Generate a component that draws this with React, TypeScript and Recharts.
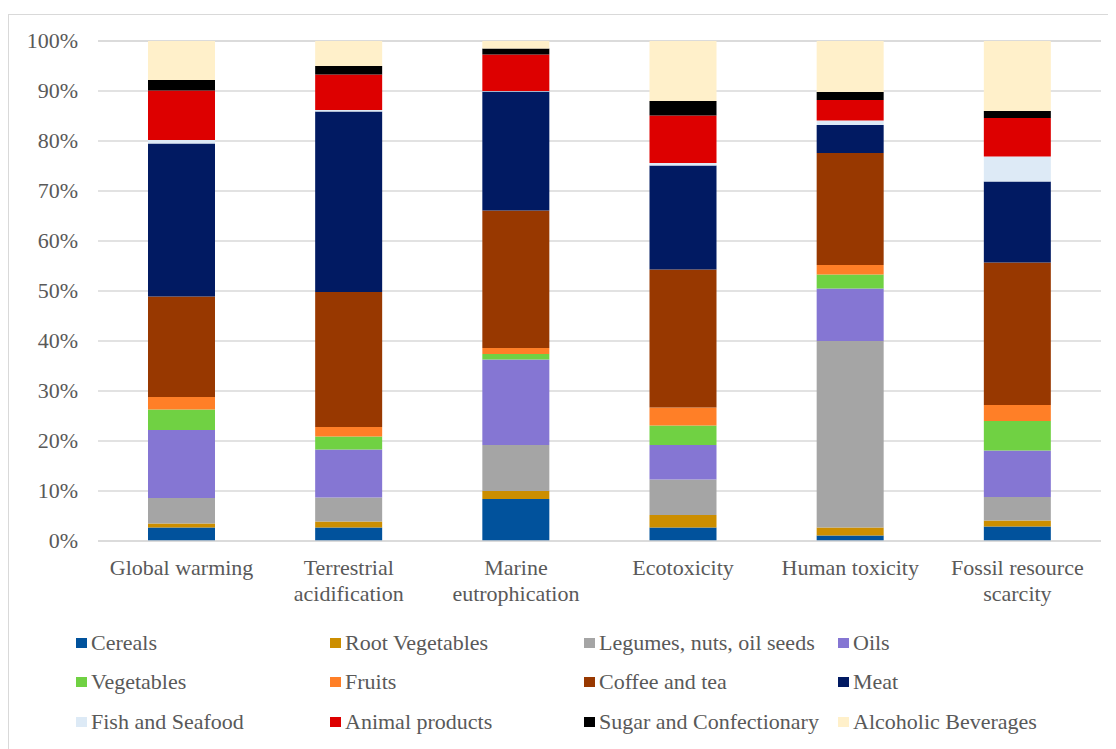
import {Bar, BarChart, CartesianGrid, XAxis, YAxis} from "recharts";

// Share of each food group in every impact category (%)
const categories = [
    "Global warming",
    "Terrestrial\nacidification",
    "Marine\neutrophication",
    "Ecotoxicity",
    "Human toxicity",
    "Fossil resource\nscarcity",
];

const cereals = [2.7, 2.7, 8.4, 2.7, 1.1, 2.9];
const rootVegetables = [0.8, 1.2, 1.6, 2.5, 1.6, 1.2];
const legumes = [5.1, 4.8, 9.2, 7.1, 37.3, 4.7];
const oils = [13.6, 9.6, 17.1, 6.9, 10.5, 9.3];
const vegetables = [4.1, 2.6, 1.1, 3.9, 2.8, 5.9];
const fruits = [2.5, 1.9, 1.2, 3.6, 1.9, 3.2];
const coffeeTea = [20.1, 27.0, 27.5, 27.6, 22.4, 28.5];
const meat = [30.6, 36.1, 23.8, 20.8, 5.6, 16.2];
const fishSeafood = [0.7, 0.3, 0.1, 0.5, 0.9, 5.0];
const animalProducts = [9.9, 7.1, 7.3, 9.5, 4.1, 7.7];
const sugar = [2.1, 1.7, 1.2, 2.9, 1.6, 1.4];
const alcohol = [7.8, 5.0, 1.5, 12.0, 10.2, 14.0];

const yTicks = [0, 10, 20, 30, 40, 50, 60, 70, 80, 90, 100];

const series = [
    {key: "Cereals", values: cereals, color: "#01529C"},
    {key: "Root Vegetables", values: rootVegetables, color: "#CC8E00"},
    {key: "Legumes, nuts, oil seeds", values: legumes, color: "#A5A5A5"},
    {key: "Oils", values: oils, color: "#8576D3"},
    {key: "Vegetables", values: vegetables, color: "#70D143"},
    {key: "Fruits", values: fruits, color: "#FF7F27"},
    {key: "Coffee and tea", values: coffeeTea, color: "#983800"},
    {key: "Meat", values: meat, color: "#011A62"},
    {key: "Fish and Seafood", values: fishSeafood, color: "#DDEAF6"},
    {key: "Animal products", values: animalProducts, color: "#DD0000"},
    {key: "Sugar and Confectionary", values: sugar, color: "#000000"},
    {key: "Alcoholic Beverages", values: alcohol, color: "#FFF0CA"},
];

const chartData = categories.map((name, i) => {
    const row: Record<string, string | number> = {name};
    series.forEach((s) => {
        row[s.key] = s.values[i];
    });
    return row;
});

const FONT = '"Liberation Serif", "Times New Roman", serif';
const TEXT = "#595959";
const GRID = "#D9D9D9";
const FONT_SIZE = 22;

function CategoryTick({x, y, payload}: any) {
    const lines = String(payload.value).split("\n");
    return (
        <text x={x} y={y} textAnchor="middle" fill={TEXT} fontSize={FONT_SIZE} fontFamily={FONT}>
            {lines.map((line, i) => (
                <tspan key={i} x={x} dy={i === 0 ? 26 : 26}>{line}</tspan>
            ))}
        </text>
    );
}

function PercentTick({x, y, payload}: any) {
    return (
        <text x={x} y={y} dy={7} textAnchor="end" fill={TEXT} fontSize={FONT_SIZE} fontFamily={FONT}>
            {`${payload.value}%`}
        </text>
    );
}

function FoodLegend() {
    return (
        <div style={{
            display: "grid",
            gridTemplateColumns: "repeat(4, 254px)",
            paddingLeft: 67,
            paddingTop: 8,
            fontFamily: FONT,
            fontSize: FONT_SIZE,
            color: TEXT,
        }}>
            {series.map((s) => (
                <div key={s.key} style={{display: "flex", alignItems: "center", height: 39.5, whiteSpace: "nowrap"}}>
                    <span style={{width: 11, height: 10, background: s.color, marginRight: 4, flexShrink: 0}}/>
                    {s.key}
                </div>
            ))}
        </div>
    );
}

export default function App() {
    return (
        <div style={{
            marginTop: 6,
            width: 1107,
            height: 734,
            borderTop: `1px solid ${GRID}`,
            borderLeft: `1px solid ${GRID}`,
            overflow: "hidden",
            fontFamily: FONT,
        }}>
            <BarChart
                width={1107}
                height={600}
                data={chartData}
                margin={{top: 26, right: 15, bottom: 0, left: 0}}
                barSize={67}
            >
                <CartesianGrid vertical={false} stroke={GRID} strokeWidth={1.5}/>
                <XAxis
                    dataKey="name"
                    interval={0}
                    height={74}
                    tickLine={false}
                    axisLine={{stroke: GRID, strokeWidth: 1.5}}
                    tick={<CategoryTick/>}
                />
                <YAxis
                    type="number"
                    domain={[0, 100]}
                    ticks={yTicks}
                    width={89}
                    axisLine={false}
                    tickLine={false}
                    tickSize={0}
                    tickMargin={20}
                    tick={<PercentTick/>}
                />
                {series.map((s) => (
                    <Bar
                        key={s.key}
                        dataKey={s.key}
                        stackId="food"
                        fill={s.color}
                        isAnimationActive={false}
                    />
                ))}
            </BarChart>
            <FoodLegend/>
        </div>
    );
}
